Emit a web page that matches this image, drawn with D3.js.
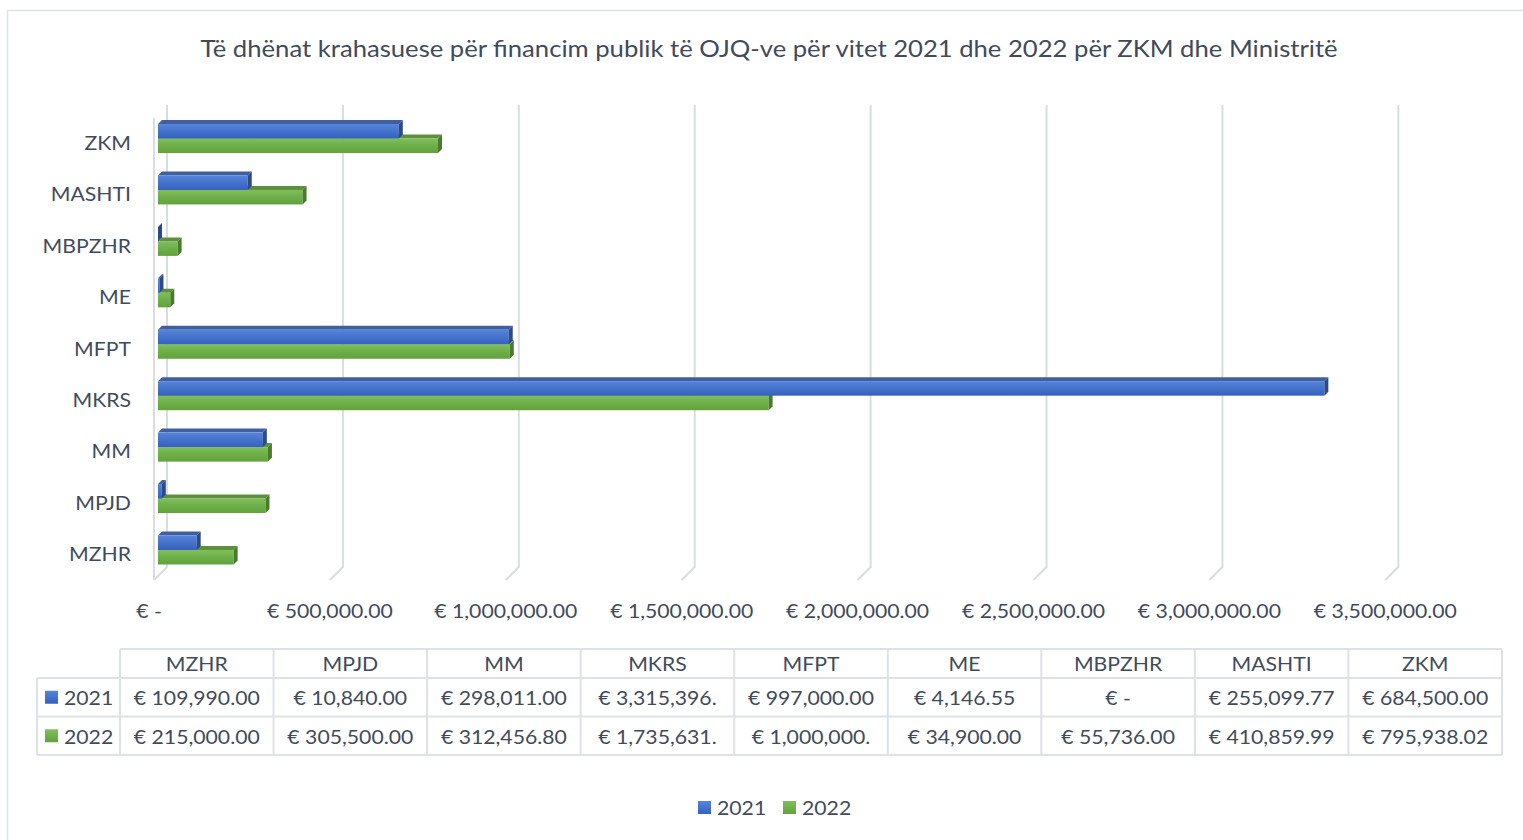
<!DOCTYPE html>
<html><head><meta charset="utf-8">
<script src="https://cdn.jsdelivr.net/npm/d3@7"></script>
<style>body{margin:0;background:#fff} svg{display:block}</style>
</head><body>
<svg id="chart" width="1523" height="840"></svg>
<script>
// ---------- DATA ----------
const chartTitle = "Të dhënat krahasuese për financim publik të OJQ-ve për vitet 2021 dhe 2022 për ZKM dhe Ministritë";
const categories = ["MZHR", "MPJD", "MM", "MKRS", "MFPT", "ME", "MBPZHR", "MASHTI", "ZKM"];
const seriesNames = ["2021", "2022"];
const values2021 = [109990.00, 10840.00, 298011.00, 3315396.00, 997000.00, 4146.55, 0, 255099.77, 684500.00];
const values2022 = [215000.00, 305500.00, 312456.80, 1735631.00, 1000000.00, 34900.00, 55736.00, 410859.99, 795938.02];
const tickValues = [0, 500000, 1000000, 1500000, 2000000, 2500000, 3000000, 3500000];

// ---------- STYLE ----------
const FONT = "Lato";
const TEXT = "#3f4b5c";
const GRID = "#d9dce3";
const F = 20;
const svg = d3.select("#chart");
const fmtNum = d3.format(",.2f");
const fmt = v => v === 0 ? "€ -" : "€ " + fmtNum(v);

// horizontal stretch so text widths match reference
function measure(s, size) {
  const t = svg.append("text").attr("font-family", FONT).attr("font-size", size).text(s);
  const w = t.node().getComputedTextLength(); t.remove(); return w;
}
const SX = 126 / measure("€ 109,990.00", F);
function txt(parent, x, y, s, o = {}) {
  const size = o.size || F, sx = o.sx || SX;
  return parent.append("text")
    .attr("transform", `translate(${x},${y}) scale(${sx},1)`)
    .attr("font-family", FONT).attr("font-size", size)
    .attr("fill", o.fill || TEXT)
    .attr("text-anchor", o.anchor || "start")
    .attr("dominant-baseline", o.baseline || "central")
    .text(s);
}

// ---------- GRADIENTS ----------
const defs = svg.append("defs");
function grad(id, stops) {
  const g = defs.append("linearGradient").attr("id", id).attr("x1", 0).attr("y1", 0).attr("x2", 0).attr("y2", 1);
  stops.forEach(([o, c]) => g.append("stop").attr("offset", o).attr("stop-color", c));
}
grad("blueFront", [[0, "#5585d9"], [0.45, "#4674cc"], [1, "#3461bd"]]);
grad("greenFront", [[0, "#80c05a"], [0.45, "#70b04a"], [1, "#62a23e"]]);
grad("blueLeg", [[0, "#5585d9"], [1, "#3461bd"]]);
grad("greenLeg", [[0, "#80c05a"], [1, "#62a23e"]]);
const palette = {
  "2021": { front: "url(#blueFront)", top: "#3f5fa0", side: "#2d4a88", leg: "url(#blueLeg)" },
  "2022": { front: "url(#greenFront)", top: "#5e8f3f", side: "#497a2e", leg: "url(#greenLeg)" }
};

// ---------- OUTER BORDER ----------
svg.append("path").attr("d", "M7.5,845 L7.5,10.5 L1530,10.5")
  .attr("fill", "none").attr("stroke", "#dde1e8").attr("stroke-width", 1.5);

// ---------- TITLE ----------
const TS = 24;
const titleSX = 1138 / measure(chartTitle, TS);
txt(svg, 769, 57, chartTitle, { size: TS, sx: titleSX, anchor: "middle", baseline: "alphabetic" });

// ---------- SCALES ----------
const x = d3.scaleLinear().domain([0, 3500000]).range([158, 158 + 7 * 175.9]);
const y = d3.scaleBand().domain(categories.slice().reverse()).range([112.8, 575.7]).padding(0);
const D = 4;          // bar depth offset
const BACK = 9;       // back wall offset from bar front
const FRONT = -4;     // floor front offset from bar front
const BH = 14.5;      // bar thickness
const wallTop = 105, wallBottom = 567, floorBottom = 580;

// ---------- GRID ----------
const grid = svg.append("g");
tickValues.forEach(v => {
  const xb = x(v) + BACK, xf = x(v) + FRONT;
  grid.append("path")
    .attr("d", `M${xb},${wallTop} L${xb},${wallBottom} L${xf},${floorBottom}`)
    .attr("fill", "none").attr("stroke", GRID).attr("stroke-width", 2);
});
// side wall front edge
grid.append("line").attr("x1", x(0) + FRONT).attr("x2", x(0) + FRONT)
  .attr("y1", wallTop + 13).attr("y2", floorBottom)
  .attr("stroke", GRID).attr("stroke-width", 2);

// ---------- AXIS LABELS ----------
const xAxisG = svg.append("g");
tickValues.forEach(v => txt(xAxisG, x(v) + FRONT - (v === 0 ? 5 : 0), 610, fmt(v), { anchor: "middle" }));
const yAxisG = svg.append("g");
categories.forEach(c => txt(yAxisG, 131, y(c) + y.bandwidth() / 2 + 3.5, c, { anchor: "end" }));

// ---------- BARS ----------
function bar(g, x0, x1, y0, h, p) {
  g.append("path").attr("d", `M${x0},${y0} L${x0 + D},${y0 - D} L${x1 + D},${y0 - D} L${x1},${y0} Z`).attr("fill", p.top);
  g.append("rect").attr("x", x0).attr("y", y0).attr("width", Math.max(0, x1 - x0)).attr("height", h).attr("fill", p.front);
  g.append("path").attr("d", `M${x1},${y0} L${x1 + D},${y0 - D} L${x1 + D},${y0 + h - D} L${x1},${y0 + h} Z`).attr("fill", p.side);
}
const barsG = svg.append("g");
categories.forEach((c, i) => {
  const mid = y(c) + y.bandwidth() / 2;
  // 2022 (lower) first, 2021 (upper) on top
  bar(barsG, x(0), x(values2022[i]), mid, BH, palette["2022"]);
  bar(barsG, x(0), x(values2021[i]), mid - BH, BH, palette["2021"]);
});

// ---------- DATA TABLE ----------
const tbl = svg.append("g");
const tLeft = 37, tCol0 = 120, tRight = 1502;
const colW = (tRight - tCol0) / categories.length;
const rowY = [649, 678, 716.5, 755];
const TB = "#dde1e8";
function ln(x1, y1, x2, y2) {
  tbl.append("line").attr("x1", x1).attr("y1", y1).attr("x2", x2).attr("y2", y2)
    .attr("stroke", TB).attr("stroke-width", 2);
}
ln(tCol0, rowY[0], tRight, rowY[0]);
ln(tLeft, rowY[1], tRight, rowY[1]);
ln(tLeft, rowY[2], tRight, rowY[2]);
ln(tLeft, rowY[3], tRight, rowY[3]);
ln(tLeft, rowY[1], tLeft, rowY[3]);
for (let k = 0; k <= categories.length; k++) ln(tCol0 + k * colW, rowY[0], tCol0 + k * colW, rowY[3]);

const maxW = measure("€ 109,990.00", F) + 2;
function fit(s) {
  while (s.length > 1 && measure(s, F) > maxW) s = s.slice(0, -1);
  return s;
}
categories.forEach((c, k) => txt(tbl, tCol0 + (k + 0.5) * colW, (rowY[0] + rowY[1]) / 2, c, { anchor: "middle" }));
[values2021, values2022].forEach((vals, r) => {
  const cy = (rowY[r + 1] + rowY[r + 2]) / 2;
  tbl.append("rect").attr("x", 45).attr("y", cy - 6.5).attr("width", 13).attr("height", 13)
    .attr("fill", palette[seriesNames[r]].leg);
  txt(tbl, 64, cy, seriesNames[r]);
  vals.forEach((v, k) => txt(tbl, tCol0 + (k + 0.5) * colW, cy, fit(fmt(v)), { anchor: "middle" }));
});

// ---------- LEGEND ----------
const leg = svg.append("g");
const legItems = [{ name: seriesNames[0], x: 698 }, { name: seriesNames[1], x: 783 }];
legItems.forEach(it => {
  leg.append("rect").attr("x", it.x).attr("y", 801).attr("width", 13).attr("height", 13).attr("fill", palette[it.name].leg);
  txt(leg, it.x + 19, 807, it.name);
});
</script>
</body></html>
